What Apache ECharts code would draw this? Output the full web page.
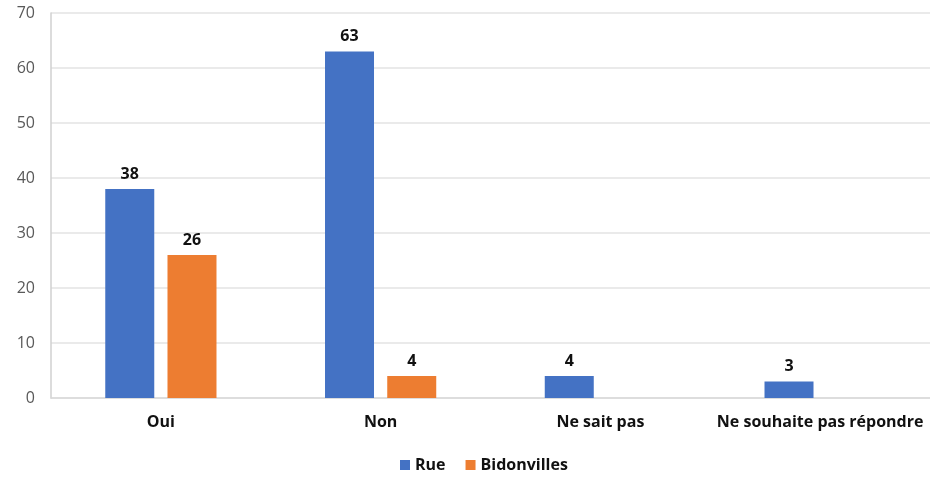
<!DOCTYPE html>
<html>
<head>
<meta charset="utf-8">
<script src="https://cdn.jsdelivr.net/npm/echarts@6/dist/echarts.min.js"></script>
<style>html,body{margin:0;padding:0;background:#fff}#c{width:930px;height:477px}</style>
</head>
<body>
<div id="c"></div>
<script>
const categories = ["Oui", "Non", "Ne sait pas", "Ne souhaite pas répondre"];
const rue = [38, 63, 4, 3];
const bidonvilles = [26, 4, null, null];
const yTicks = { min: 0, max: 70, interval: 10 };

const chart = echarts.init(document.getElementById('c'));
const fontFamily = '"Open Sans", Lato, sans-serif';
const label = { show: true, position: 'top', distance: 7, color: '#111', fontWeight: 'bold', fontSize: 16, fontFamily };
chart.setOption({
  animation: false,
  textStyle: { fontFamily },
  grid: { left: 51, right: 0, top: 13, bottom: 79 },
  legend: {
    bottom: -1, left: 395, itemWidth: 10, itemHeight: 10, itemGap: 20, icon: 'rect',
    textStyle: { color: '#111', fontWeight: 'bold', fontSize: 16, fontFamily },
    data: ['Rue', 'Bidonvilles']
  },
  xAxis: {
    type: 'category', data: categories,
    axisLine: { lineStyle: { color: '#d9d9d9', width: 1.5 } },
    axisTick: { show: false },
    axisLabel: { interval: 0, hideOverlap: false, color: '#111', fontWeight: 'bold', fontSize: 16, margin: 16, fontFamily }
  },
  yAxis: {
    type: 'value', min: yTicks.min, max: yTicks.max, interval: yTicks.interval,
    axisLine: { show: true, lineStyle: { color: '#d0d0d0', width: 1.5 } },
    axisTick: { show: false },
    splitLine: { lineStyle: { color: '#e3e3e3', width: 1.5 } },
    axisLabel: { color: '#595959', fontSize: 16, margin: 16, fontFamily }
  },
  series: [
    { name: 'Rue', type: 'bar', data: rue, barWidth: 49, barGap: '27%', itemStyle: { color: '#4472C4' }, label },
    { name: 'Bidonvilles', type: 'bar', data: bidonvilles, barWidth: 49, barGap: '27%', itemStyle: { color: '#ED7D31' }, label }
  ]
});
</script>
</body>
</html>
